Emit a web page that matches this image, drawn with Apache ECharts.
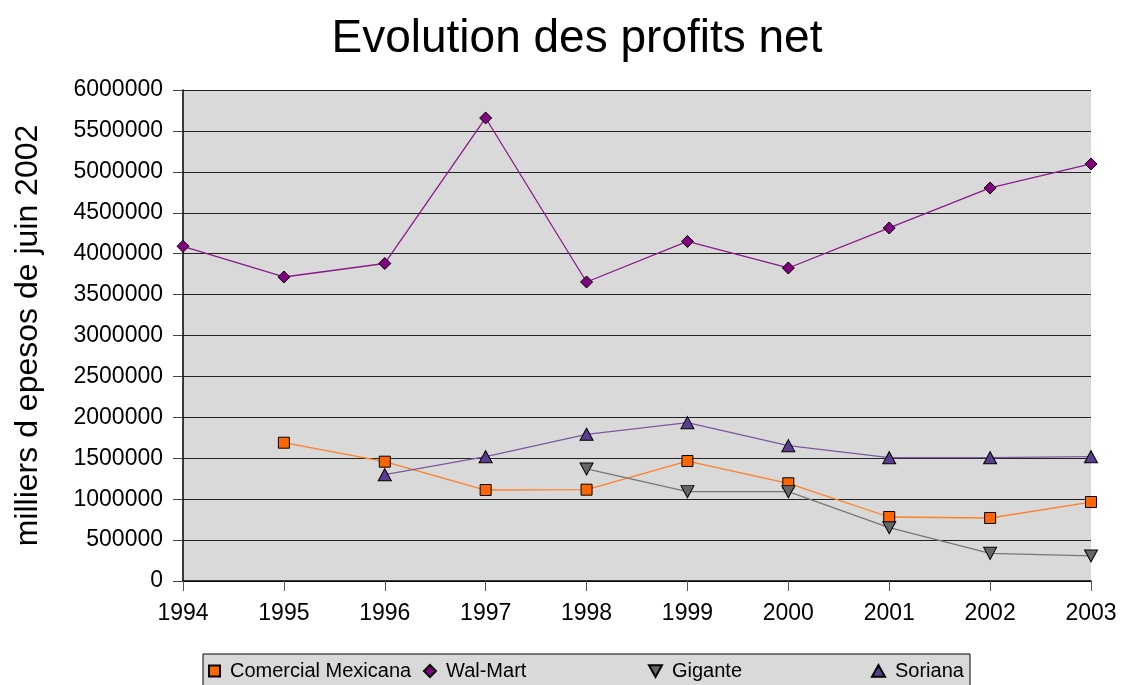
<!DOCTYPE html>
<html>
<head>
<meta charset="utf-8">
<script src="https://cdn.jsdelivr.net/npm/echarts@6/dist/echarts.min.js"></script>
<style>html,body{margin:0;padding:0;background:#fff;}#c{width:1121px;height:685px;}</style>
</head>
<body>
<div id="c"></div>
<script>
const years = ['1994','1995','1996','1997','1998','1999','2000','2001','2002','2003'];
const comercialMexicana = [null, 1690000, 1458000, 1112000, 1116000, 1466000, 1194000, 782000, 770000, 965000];
const walMart = [4090000, 3715000, 3880000, 5658000, 3654000, 4149000, 3825000, 4314000, 4803000, 5096000];
const gigante = [null, null, null, null, 1369000, 1092000, 1092000, 652000, 338000, 306000];
const soriana = [null, null, 1299000, 1519000, 1793000, 1935000, 1654000, 1507000, 1507000, 1519000];
const seriesNames = ['Comercial Mexicana', 'Wal-Mart', 'Gigante', 'Soriana'];

const FONT = '"Liberation Sans", Arial, sans-serif';
const downTri = 'path://M0,0 L10,0 L5,9 Z';
const upTri = 'path://M5,0 L10,9 L0,9 Z';

const chart = echarts.init(document.getElementById('c'), null, {renderer: 'canvas'});

function legend(name, left, icon, w, h) {
  return {
    data: [{name: name, icon: icon}],
    left: left, top: 661, padding: 0, itemWidth: w, itemHeight: h, itemGap: 4,
    textStyle: {fontFamily: FONT, fontSize: 20, color: '#000', padding: [0,0,0,5]},
    selectedMode: false
  };
}

const option = {
  backgroundColor: '#fff',
  animation: false,
  title: {
    text: 'Evolution des profits net',
    left: 572, textAlign: 'center', top: 11,
    textStyle: {fontFamily: FONT, fontSize: 46, fontWeight: 'normal', color: '#000'}
  },
  graphic: [{
    type: 'rect', z: -1,
    shape: {x: 203, y: 654, width: 767, height: 50},
    style: {fill: '#d9d9d9', stroke: '#000', lineWidth: 1}
  }],
  legend: [
    legend(seriesNames[0], 208, 'rect', 11, 11),
    legend(seriesNames[1], 423, 'diamond', 12, 12),
    legend(seriesNames[2], 648, downTri, 13, 12),
    legend(seriesNames[3], 871, upTri, 13, 12)
  ],
  grid: {left: 183, right: 30, top: 90, bottom: 104, show: true, backgroundColor: '#d9d9d9', borderWidth: 0},
  xAxis: {
    type: 'category', data: years, boundaryGap: false,
    axisLine: {lineStyle: {color: '#000', width: 1.5}},
    axisTick: {show: true, length: 10, inside: false, alignWithLabel: true, lineStyle: {color: '#555'}},
    axisLabel: {fontFamily: FONT, fontSize: 23, color: '#000', margin: 21},
    splitLine: {show: false}
  },
  yAxis: {
    type: 'value', min: 0, max: 6000000, interval: 500000,
    name: 'milliers d epesos de juin 2002', nameLocation: 'middle', nameGap: 139, nameRotate: 90,
    nameTextStyle: {fontFamily: FONT, fontSize: 32, color: '#000'},
    axisLine: {show: true, lineStyle: {color: '#000', width: 1.5}},
    axisTick: {show: true, length: 10, lineStyle: {color: '#444'}},
    axisLabel: {fontFamily: FONT, fontSize: 23, color: '#000', margin: 20, formatter: v => String(v)},
    splitLine: {show: true, lineStyle: {color: '#222', width: 1}}
  },
  series: [
    {
      name: seriesNames[0], type: 'line', data: comercialMexicana,
      symbol: 'rect', symbolSize: 11, showAllSymbol: true,
      lineStyle: {color: '#ff7f27', width: 1.3},
      itemStyle: {color: '#ff6600', borderColor: '#000', borderWidth: 1}
    },
    {
      name: seriesNames[1], type: 'line', data: walMart,
      symbol: 'diamond', symbolSize: 12, showAllSymbol: true,
      lineStyle: {color: '#8b1a8b', width: 1.3},
      itemStyle: {color: '#800080', borderColor: '#000', borderWidth: 1}
    },
    {
      name: seriesNames[2], type: 'line', data: gigante,
      symbol: downTri, symbolSize: [13, 12], showAllSymbol: true,
      lineStyle: {color: '#777', width: 1.3},
      itemStyle: {color: '#666', borderColor: '#000', borderWidth: 1}
    },
    {
      name: seriesNames[3], type: 'line', data: soriana,
      symbol: upTri, symbolSize: [13, 12], showAllSymbol: true,
      lineStyle: {color: '#7a5a9f', width: 1.3},
      itemStyle: {color: '#5b3d8f', borderColor: '#000', borderWidth: 1}
    }
  ]
};
chart.setOption(option);
</script>
</body>
</html>
